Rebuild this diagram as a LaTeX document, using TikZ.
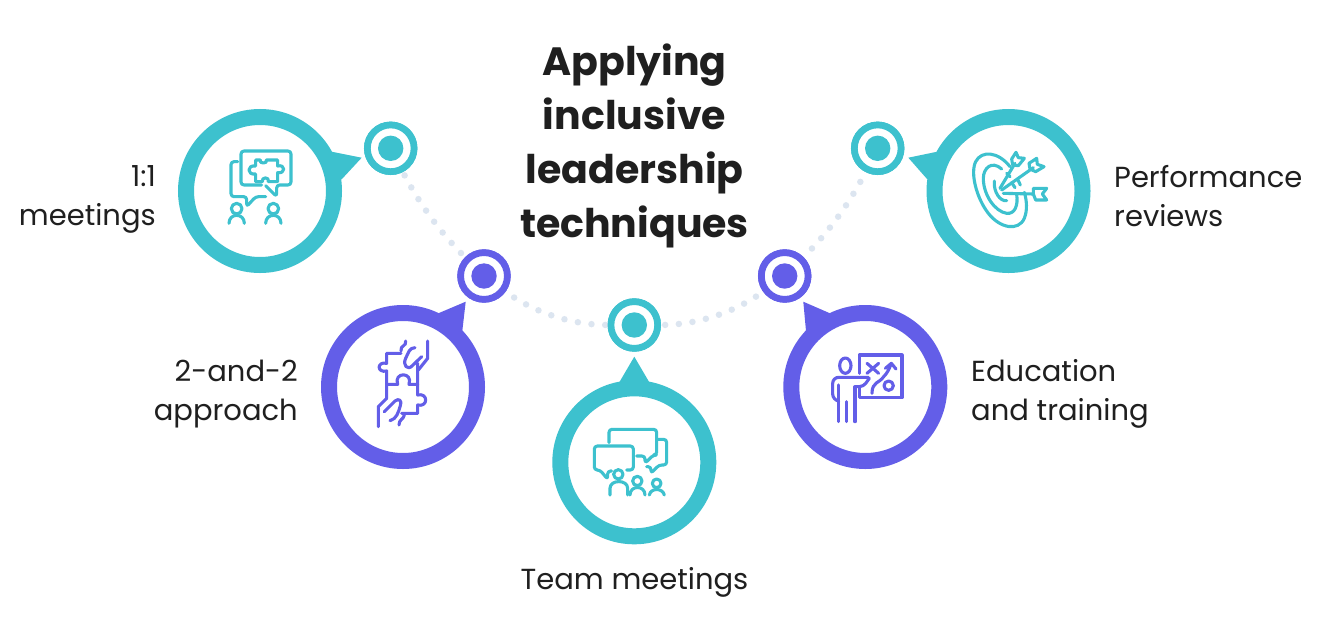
\documentclass[tikz,border=0pt]{standalone}
\usepackage{fontspec}
\setmainfont{Poppins}
\definecolor{teal}{HTML}{3DC1CE}
\definecolor{purp}{HTML}{635EE8}
\definecolor{dotc}{HTML}{DCE5F0}
\definecolor{ink}{HTML}{1F1F1F}
\tikzset{
  bigring/.style={circle,draw=#1,line width=16pt,minimum size=148pt,inner sep=0pt,fill=white},
  smallring/.style={circle,draw=#1,line width=6.7pt,minimum size=46.7pt,inner sep=0pt,fill=white},
  smalldot/.style={circle,fill=#1,minimum size=25.4pt,inner sep=0pt},
  dotline/.style={draw=dotc,line width=6.5pt,line cap=round,dash pattern=on 0pt off 13.75pt,dash phase=#1},
  tailfill/.style={fill=#1,draw=none},
  icon/.style={draw=#1,line width=3.1pt,line cap=round,line join=round,fill=none},
  lbl/.style={font=\fontsize{29}{39}\selectfont,text=ink,align=center,inner sep=0pt},
  ttl/.style={font=\fontsize{39.5}{54}\selectfont\bfseries,text=ink,align=center,inner sep=0pt}
}
\begin{document}
\begin{tikzpicture}[x=1pt,y=-1pt]
\useasboundingbox (0,0) rectangle (1328,640);
\fill[white] (0,0) rectangle (1328,640);
% small rings
\node[smallring=teal] (s1) at (390.7,148.3) {};
\node[smallring=purp] (s2) at (484,276) {};
\node[smallring=teal] (s3) at (634.3,325) {};
\node[smallring=purp] (s4) at (784.7,276) {};
\node[smallring=teal] (s5) at (877.7,148.3) {};
% dotted arc
\draw[dotline=10pt] (s1) to[bend right=9,looseness=0.85] (s2);
\draw[dotline=3.4pt] (s2) to[bend right=18,looseness=0.85] (s3);
\draw[dotline=9.6pt] (s3) to[bend right=18,looseness=0.85] (s4);
\draw[dotline=1.7pt] (s4) to[bend right=9,looseness=0.85] (s5);
% tails
\fill[tailfill=teal] (361.7,157.7) -- (331.7,151.7) -- (300,180) -- (341.7,179.3) -- cycle;
\fill[tailfill=purp] (465.7,301.7) -- (438.3,313.3) -- (420,350) -- (462.3,331) -- cycle;
\fill[tailfill=teal] (634.3,356.7) -- (619.3,382.3) -- (634.3,395) -- (649.3,382.3) -- cycle;
\fill[tailfill=purp] (803.3,301.7) -- (830,313.3) -- (845,350) -- (806,331) -- cycle;
\fill[tailfill=teal] (908.3,157.7) -- (937.3,151.7) -- (968,180) -- (927.3,179.3) -- cycle;
% big rings
\node[bigring=teal] (b1) at (260,191) {};
\node[bigring=purp] (b2) at (403,387) {};
\node[bigring=teal] (b3) at (634.3,462.3) {};
\node[bigring=purp] (b4) at (865.3,387) {};
\node[bigring=teal] (b5) at (1008.5,191) {};
% small rings on top
\node[smallring=teal] at (s1) {};
\node[smallring=purp] at (s2) {};
\node[smallring=teal] at (s3) {};
\node[smallring=purp] at (s4) {};
\node[smallring=teal] at (s5) {};
\node[smalldot=teal] (d1) at (s1) {};
\node[smalldot=purp] (d2) at (s2) {};
\node[smalldot=teal] (d3) at (s3) {};
\node[smalldot=purp] (d4) at (s4) {};
\node[smalldot=teal] (d5) at (s5) {};
% icon 1
\begin{scope}[shift={(215,140)},scale=0.3333,icon=teal]
\draw[rounded corners=3pt] (140,135) -- (78,135) -- (78,33) -- (228,33) -- (228,135) -- (185,135) -- (185,170) -- (152,137);
\draw[rounded corners=3pt] (68,65) -- (48,65) -- (48,170) -- (95,170) -- (95,200) -- (122,170) -- (152,170);
\draw (122,60) -- (136,60) .. controls (130,72) and (160,72) .. (154,60) -- (188,60) -- (188,78) .. controls (212,72) and (212,102) .. (188,98) -- (188,125) -- (160,125) .. controls (165,110) and (138,110) .. (142,125) -- (122,125) -- (122,102) .. controls (95,106) and (95,74) .. (122,78) -- cycle;
\draw (65,206) circle[radius=16];
\draw (42,250) .. controls (42,218) and (88,218) .. (88,250);
\draw (175,206) circle[radius=16];
\draw (152,250) .. controls (152,218) and (198,218) .. (198,250);
\end{scope}
% icon 2
\begin{scope}[shift={(365,335)},scale=0.3333,icon=purp]
\draw (108,55) -- (65,55) -- (65,85) .. controls (35,78) and (35,115) .. (65,108) -- (65,190);
\draw (110,235) -- (158,235) -- (158,210) .. controls (190,218) and (190,172) .. (158,180) -- (158,85);
\draw (65,148) -- (98,148) .. controls (85,110) and (145,110) .. (132,148) -- (158,148);
\draw (122,18) .. controls (125,35) and (105,30) .. (108,48);
\draw (150,38) .. controls (132,38) and (130,55) .. (122,70) .. controls (112,90) and (128,108) .. (142,92) -- (170,65);
\draw (188,18) -- (188,70) -- (160,105);
\draw (40,275) -- (40,215) -- (65,190);
\draw (58,230) -- (90,198) .. controls (102,188) and (112,198) .. (106,212) .. controls (100,232) and (95,252) .. (75,257);
\draw (118,240) .. controls (115,255) and (102,252) .. (102,270);
\end{scope}
% icon 3
\begin{scope}[shift={(585,420)},scale=0.3333,icon=teal]
\draw[rounded corners=3pt] (125,150) -- (145,150) -- (145,78) -- (28,78) -- (28,150) -- (45,150) -- (68,178) -- (68,153) -- (80,153);
\draw[rounded corners=3pt] (72,68) -- (72,28) -- (215,28) -- (215,105) -- (205,105) -- (180,130) -- (180,108) -- (155,108);
\draw[rounded corners=3pt] (220,58) -- (245,58) -- (245,135) -- (222,135) -- (198,160) -- (198,140) -- (185,140);
\draw (100,163) circle[radius=14];
\draw (75,225) -- (75,205) .. controls (75,178) and (128,178) .. (128,205) -- (128,225);
\draw (157,183) circle[radius=14];
\draw (135,225) .. controls (135,195) and (180,195) .. (180,225);
\draw (215,190) circle[radius=13];
\draw (193,225) .. controls (197,203) and (233,203) .. (238,225);
\end{scope}
% icon 4
\begin{scope}[shift={(822,345)},scale=0.3333,icon=purp]
\draw (112,85) -- (112,30) -- (240,30) -- (240,158) -- (112,158) -- (112,128);
\draw (70,62) ellipse[x radius=17,y radius=23];
\draw[rounded corners=6pt] (139,97) -- (32,97) -- (32,165) -- (49,168);
\draw (49,120) -- (49,230);
\draw (74,170) -- (74,230);
\draw (99,125) -- (99,230);
\draw[rounded corners=4pt] (99,125) -- (124,125) -- (142,100);
\draw (135,55) -- (170,85) (170,55) -- (135,85);
\draw (150,145) .. controls (150,110) and (172,115) .. (185,95) .. controls (195,85) and (200,75) .. (207,58);
\draw (190,70) -- (208,55) -- (222,72);
\draw (200,122) circle[radius=14];
\end{scope}
% icon 5
\begin{scope}[shift={(965,145)},scale=0.3333,icon=teal]
\draw (135,65) .. controls (100,20) and (50,15) .. (32,50) .. controls (15,85) and (35,160) .. (70,205) .. controls (105,250) and (160,260) .. (178,220) .. controls (188,195) and (185,165) .. (178,142);
\draw (110,72) .. controls (80,45) and (55,70) .. (55,100) .. controls (55,150) and (90,200) .. (125,205) .. controls (150,208) and (160,180) .. (155,148);
\draw (88,108) .. controls (85,140) and (105,170) .. (125,167);
\draw (105,130) -- (150,55);
\draw (140,42) -- (153,22) -- (160,38) -- (178,40) -- (160,62) -- (143,60) -- cycle;
\draw (110,135) -- (205,68);
\draw (192,55) -- (215,40) -- (217,58) -- (237,65) -- (212,80) -- (195,72) -- cycle;
\draw (115,145) -- (205,147);
\draw (205,130) -- (245,130) -- (232,147) -- (245,165) -- (212,165) -- (205,147) -- cycle;
\draw (140,113) -- (150,128) (158,103) -- (166,120) (125,85) -- (135,95);
\end{scope}
% title
\node[ttl] (title) at (634.5,146) {Applying\\inclusive\\leadership\\techniques};
% labels
\node[lbl,align=right,anchor=east] (l1) at (156,199) {1:1\\meetings};
\node[lbl,align=right,anchor=east] (l2) at (298,394) {2-and-2\hspace{8pt}\\approach};
\node[lbl] (l3) at (634.5,582) {Team meetings};
\node[lbl,align=left,anchor=west] (l4) at (971,394) {Education\\and training};
\node[lbl,align=left,anchor=west] (l5) at (1114,196) {Performance\\reviews};
\end{tikzpicture}
\end{document}
